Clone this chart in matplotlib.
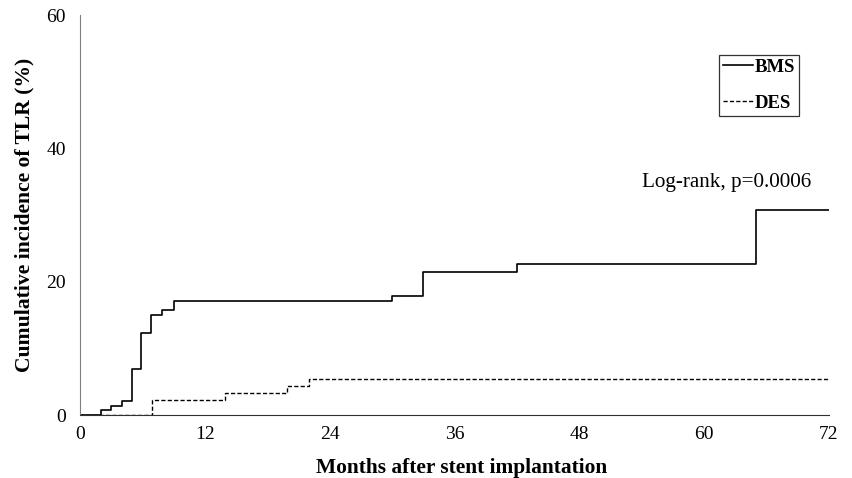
import matplotlib
matplotlib.use("Agg")
import matplotlib.pyplot as plt

# Data
bms_months = [0, 2, 3, 4, 5, 5.9, 6.8, 7.9, 9, 30, 33, 42, 65, 72]
bms_pct = [0, 0.75, 1.35, 2.1, 6.85, 12.3, 15.0, 15.8, 17.1, 17.9, 21.4, 22.7, 30.8, 30.8]
des_months = [0, 6.9, 13.9, 19.9, 22, 72]
des_pct = [0, 2.2, 3.3, 4.3, 5.4, 5.4]
x_ticks = [0, 12, 24, 36, 48, 60, 72]
y_ticks = [0, 20, 40, 60]

plt.rcParams['font.family'] = ['Liberation Serif', 'DejaVu Serif']

fig = plt.figure(figsize=(8.53, 4.78), dpi=100)
ax = fig.add_axes([80/853, 63/478, 749/853, 400/478])

ax.step(bms_months, bms_pct, where='post', color='black', lw=1.2, label='BMS')
ax.step(des_months, des_pct, where='post', color='black', lw=1.0,
        linestyle=(0, (3, 1.6)), label='DES')

ax.set_xlim(0, 72)
ax.set_ylim(0, 60)
ax.set_xticks(x_ticks)
ax.set_yticks(y_ticks)
ax.tick_params(length=0, labelsize=14, pad=8)
ax.tick_params(axis='y', pad=10)
for s in ['top', 'right']:
    ax.spines[s].set_visible(False)
ax.spines['left'].set_color('#808080')
ax.spines['bottom'].set_color('#303030')

ax.set_xlabel('Months after stent implantation', fontsize=15.4, fontweight='bold')
ax.xaxis.set_label_coords((462-80)/749, -(473-415)/400)
ax.xaxis.label.set_va('baseline')
ax.set_ylabel('Cumulative incidence of TLR (%)', fontsize=15.6, fontweight='bold', labelpad=9)

ax.text(562/749, (415-183)/400, 'Log-rank, p=0.0006', transform=ax.transAxes, fontsize=15.2,
        ha='left', va='center')

leg = ax.legend(loc='upper left', bbox_to_anchor=((719-80)/749, (415-55)/400), frameon=True,
                fancybox=False, edgecolor='black', handlelength=1.6,
                handletextpad=0.1, borderpad=0.2, labelspacing=1.0,
                borderaxespad=0, prop={'size': 13.5, 'weight': 'bold'})
leg.get_frame().set_linewidth(0.9)

fig.savefig('out.png', dpi=100)
